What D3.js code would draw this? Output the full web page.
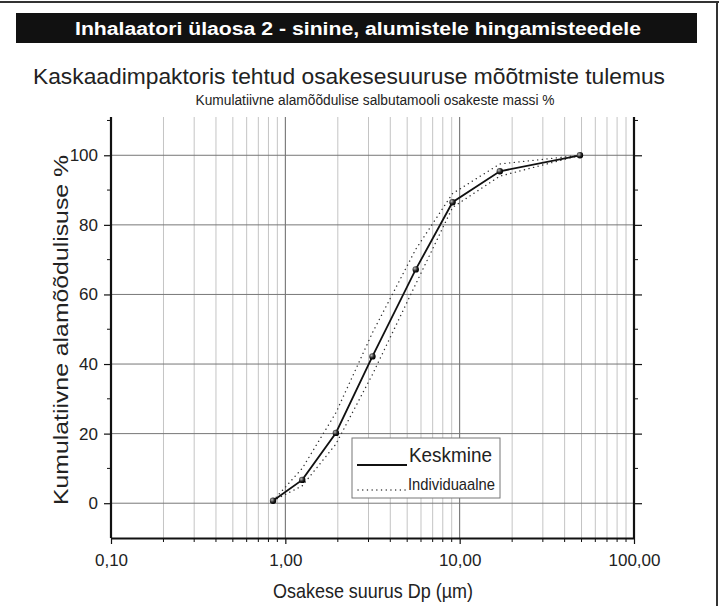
<!DOCTYPE html>
<html>
<head>
<meta charset="utf-8">
<script src="https://cdn.jsdelivr.net/npm/d3@7"></script>
<style>
body { margin:0; background:#fff; }
svg text { font-family: "Liberation Sans", Arial, sans-serif; }
</style>
</head>
<body>
<svg id="chart" width="719" height="606"></svg>
<script>
// particle size (um) and cumulative undersize %
const sizes = [0.85, 1.25, 1.95, 3.16, 5.6, 9.1, 17, 49];
const meanPct = [0.7, 6.7, 20.2, 42.2, 67.2, 86.5, 95.4, 100];
const indivHigh = [0.7, 10, 26, 49, 73, 89, 97.5, 100];
const indivLow = [0.7, 5, 17, 37, 63, 85, 94, 100];
const xTicks = [0.1, 1, 10, 100];
const xTickLabels = ['0,10', '1,00', '10,00', '100,00'];
const yTicks = [0, 20, 40, 60, 80, 100];

const svg = d3.select('#chart');
const x = d3.scaleLog().domain([0.1, 100]).range([111, 634]);
const y = d3.scaleLinear().domain([-10, 111]).range([538, 117]);

// outer frame (top + right)
svg.append('line').attr('x1',0).attr('y1',2).attr('x2',719).attr('y2',2).attr('stroke','#333').attr('stroke-width',2);
svg.append('line').attr('x1',717).attr('y1',2).attr('x2',717).attr('y2',606).attr('stroke','#333').attr('stroke-width',2);

// header
svg.append('rect').attr('x',16).attr('y',13).attr('width',681).attr('height',30).attr('fill','#111');
svg.append('text').text('Inhalaatori ülaosa 2 - sinine, alumistele hingamisteedele')
  .attr('x',358).attr('y',35).attr('text-anchor','middle').attr('fill','#fff')
  .style('font-weight','bold').style('font-size','18px')
  .attr('textLength',566).attr('lengthAdjust','spacingAndGlyphs');
svg.append('text').text('Kaskaadimpaktoris tehtud osakesesuuruse mõõtmiste tulemus')
  .attr('x',349).attr('y',84).attr('text-anchor','middle').attr('fill','#222')
  .style('font-size','22px').attr('textLength',632).attr('lengthAdjust','spacingAndGlyphs');
svg.append('text').text('Kumulatiivne alamõõdulise salbutamooli osakeste massi %')
  .attr('x',375).attr('y',105).attr('text-anchor','middle').attr('fill','#222')
  .style('font-size','14px').attr('textLength',359).attr('lengthAdjust','spacingAndGlyphs');

// grid
const minor = [];
for (let d = 0.1; d < 100; d *= 10) {
  for (let k = 2; k <= 9; k++) minor.push(+(d * k).toFixed(3));
}
svg.append('g').selectAll('line').data(minor).join('line')
  .attr('x1',d => x(d)).attr('x2',d => x(d)).attr('y1',y(111)).attr('y2',y(-10))
  .attr('stroke','#c4c4c4').attr('stroke-width',1);
svg.append('g').selectAll('line').data([1, 10]).join('line')
  .attr('x1',d => x(d)).attr('x2',d => x(d)).attr('y1',y(111)).attr('y2',y(-10))
  .attr('stroke','#666').attr('stroke-width',1);
svg.append('g').selectAll('line').data(yTicks).join('line')
  .attr('x1',x(0.1)).attr('x2',x(100)).attr('y1',d => y(d)).attr('y2',d => y(d))
  .attr('stroke','#777').attr('stroke-width',1);

// axes
const yMinor = [10, 30, 50, 70, 90];
const leftAxis = svg.append('g').attr('transform','translate(' + x(0.1) + ',0)')
  .call(d3.axisLeft(y).tickValues(yTicks).tickSize(7).tickSizeOuter(0).tickPadding(6).tickFormat(d3.format('d')));
leftAxis.append('g').selectAll('line').data(yMinor.concat([110])).join('line')
  .attr('x1',0).attr('x2',-4).attr('y1',d => y(d)).attr('y2',d => y(d)).attr('stroke','#111');
const rightAxis = svg.append('g').attr('transform','translate(' + x(100) + ',0)')
  .call(d3.axisRight(y).tickValues(yTicks).tickSize(8).tickSizeOuter(0).tickFormat(''));
rightAxis.append('g').selectAll('line').data(yMinor.concat([110])).join('line')
  .attr('x1',0).attr('x2',4).attr('y1',d => y(d)).attr('y2',d => y(d)).attr('stroke','#111');
const bottomAxis = svg.append('g').attr('transform','translate(0,' + y(-10) + ')')
  .call(d3.axisBottom(x).tickValues(xTicks).tickSize(6).tickSizeOuter(0).tickPadding(10)
    .tickFormat((d, i) => xTickLabels[i]));
bottomAxis.append('g').selectAll('line').data(minor).join('line')
  .attr('x1',d => x(d)).attr('x2',d => x(d)).attr('y1',0).attr('y2',4).attr('stroke','#111');

[leftAxis, rightAxis, bottomAxis].forEach(a => {
  a.attr('font-size', null).attr('font-family', null);
  a.select('.domain').attr('stroke','#111').attr('stroke-width',2.2);
  a.selectAll('.tick line').attr('stroke','#111').attr('stroke-width',1.2);
  a.selectAll('.tick text').attr('fill','#222')
    .style('font-size','17px')
    .style('font-family','"Liberation Sans", Arial, sans-serif');
});
leftAxis.select('.domain').attr('d','M0,' + y(111) + 'V' + y(-10));
rightAxis.select('.domain').attr('d','M0,' + y(111) + 'V' + y(-10));

// axis titles
svg.append('text').text('Osakese suurus Dp (µm)')
  .attr('x',373).attr('y',598).attr('text-anchor','middle').attr('fill','#222')
  .style('font-size','21px').attr('textLength',200).attr('lengthAdjust','spacingAndGlyphs');
svg.append('text').text('Kumulatiivne alamõõdulisuse %')
  .attr('transform','translate(68,' + 330 + ') rotate(-90)')
  .attr('text-anchor','middle').attr('fill','#222')
  .style('font-size','21px').attr('textLength',350).attr('lengthAdjust','spacingAndGlyphs');

// series
const line = d3.line().x(d => x(d[0])).y(d => y(d[1]));
[indivHigh, indivLow].forEach(s => {
  svg.append('path').datum(sizes.map((v, i) => [v, s[i]])).attr('d',line)
    .attr('fill','none').attr('stroke','#333').attr('stroke-width',1.4)
    .attr('stroke-linecap','round').attr('stroke-dasharray','0.1,4.6');
});
svg.append('path').datum(sizes.map((v, i) => [v, meanPct[i]])).attr('d',line)
  .attr('fill','none').attr('stroke','#111').attr('stroke-width',1.8);

const grad = svg.append('defs').append('radialGradient').attr('id','ball')
  .attr('cx','35%').attr('cy','35%').attr('r','65%');
grad.append('stop').attr('offset','0%').attr('stop-color','#bbb');
grad.append('stop').attr('offset','60%').attr('stop-color','#222');
grad.append('stop').attr('offset','100%').attr('stop-color','#000');
svg.append('g').selectAll('circle').data(sizes.map((v, i) => [v, meanPct[i]])).join('circle')
  .attr('cx',d => x(d[0])).attr('cy',d => y(d[1])).attr('r',3.2)
  .attr('fill','url(#ball)');

// legend
const lg = svg.append('g');
lg.append('rect').attr('x',352).attr('y',438).attr('width',148).attr('height',60)
  .attr('fill','#fff').attr('stroke','#777').attr('stroke-width',1);
lg.append('line').attr('x1',357).attr('x2',407).attr('y1',465).attr('y2',465)
  .attr('stroke','#111').attr('stroke-width',1.8);
lg.append('text').text('Keskmine').attr('x',409).attr('y',462).attr('fill','#222')
  .style('font-size','20px').attr('textLength',83).attr('lengthAdjust','spacingAndGlyphs');
lg.append('line').attr('x1',358).attr('x2',407).attr('y1',490).attr('y2',490)
  .attr('stroke','#333').attr('stroke-width',1.4)
  .attr('stroke-linecap','round').attr('stroke-dasharray','0.1,4.6');
lg.append('text').text('Individuaalne').attr('x',408).attr('y',490).attr('fill','#222')
  .style('font-size','17px').attr('textLength',87).attr('lengthAdjust','spacingAndGlyphs');
</script>
</body>
</html>
